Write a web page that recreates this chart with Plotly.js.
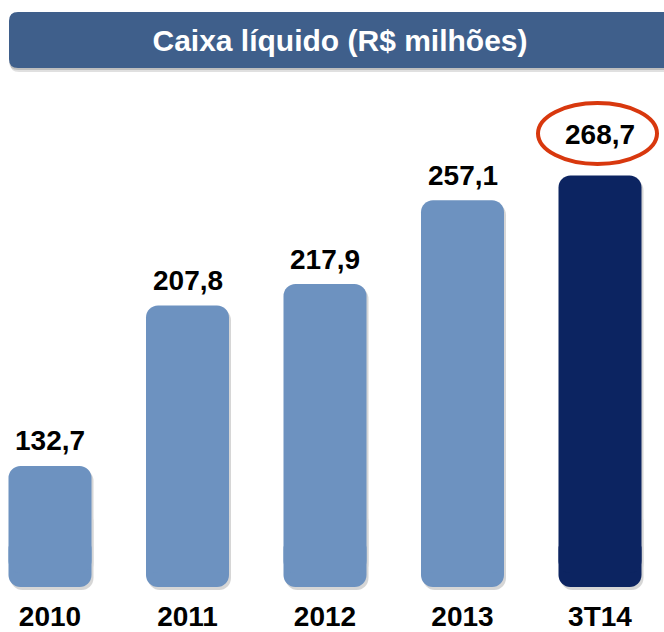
<!DOCTYPE html>
<html>
<head>
<meta charset="utf-8">
<script src="https://cdn.plot.ly/plotly-3.0.1.min.js"></script>
<style>html,body{margin:0;padding:0;background:#fff;}#chart{width:664px;height:632px;}</style>
</head>
<body>
<div id="chart"></div>
<script>
// ---- data ----
const categories = ['2010', '2011', '2012', '2013', '3T14'];
const values = [132.7, 207.8, 217.9, 257.1, 268.7];
const valueLabels = values.map(v => v.toFixed(1).replace('.', ','));
const titleText = 'Caixa líquido (R$ milhões)';

// ---- geometry / style ----
const W = 664, H = 632;
const mB = 35;
const plotH = H - mB;               // plot area from pixel 0 to 597
const k = 2.135;                    // px per unit
const v0 = 76;                      // value at visual bar bottom (pixel 587)
const yMin = v0 - (plotH - 587) / k;
const yMax = v0 + 587 / k;
const B = v0 + 14 / k;              // base of main bar
const capTop = v0 + 50 / k;         // top of rounded-bottom cap
const unitPx = 137.5;
const barW = 83 / unitPx;
const xMin = -50 / unitPx, xMax = (W - 50) / unitPx;
const light = '#6d92c0', dark = '#0c2461';
const colors = categories.map((c, i) => i === categories.length - 1 ? dark : light);
const shadow = '#d6d6d6';
const shOff = -barW / 2 + 2 / unitPx;
const sh = 3 / k;
const font = 'Liberation Sans, Arial, sans-serif';

const traces = [
  // shadows
  { type: 'bar', x: categories, base: values.map(() => B - sh), y: values.map(v => v - B),
    width: barW, offset: shOff, marker: { color: shadow, cornerradius: 12 }, hoverinfo: 'skip' },
  { type: 'bar', x: categories, base: values.map(() => capTop + 30 / k - sh), y: values.map(() => -(capTop + 30 / k - v0)),
    width: barW, offset: shOff, marker: { color: shadow, cornerradius: 12 }, hoverinfo: 'skip' },
  // bars (rounded-bottom cap + rounded-top body)
  { type: 'bar', x: categories, base: values.map(() => capTop), y: values.map(() => -(capTop - v0)),
    width: barW, marker: { color: colors, cornerradius: 12, line: { width: 0 } }, hoverinfo: 'skip' },
  { type: 'bar', x: categories, base: values.map(() => B), y: values.map(v => v - B),
    width: barW, marker: { color: colors, cornerradius: 12, line: { width: 0 } } }
];

const px2py = py => (plotH - py) / plotH;
const px2px = px => px / W;
const x0 = px2px(9), x1 = 1.02, yt = px2py(12), yb = px2py(68);
const rx = 9 / W, ry = 9 / plotH;
function banner(dx, dy) {
  const a = x0 + dx / W, t = yt - dy / plotH, b = yb - dy / plotH;
  return `M ${a + rx},${t} L ${x1},${t} L ${x1},${b} L ${a + rx},${b} Q ${a},${b} ${a},${b + ry} L ${a},${t - ry} Q ${a},${t} ${a + rx},${t} Z`;
}

const shapes = [
  { type: 'path', xref: 'paper', yref: 'paper', path: banner(1, 4), fillcolor: 'rgba(0,0,0,0.12)', line: { width: 0 }, layer: 'below' },
  { type: 'path', xref: 'paper', yref: 'paper', path: banner(0, 2), fillcolor: 'rgba(0,0,0,0.15)', line: { width: 0 }, layer: 'below' },
  { type: 'path', xref: 'paper', yref: 'paper', path: banner(0, 0), fillcolor: '#3f5f8b', line: { width: 0 }, layer: 'below' },
  { type: 'circle', xref: 'paper', yref: 'paper', x0: px2px(538), x1: px2px(657), y0: px2py(164), y1: px2py(103),
    line: { color: '#d8380e', width: 4 }, layer: 'above' }
];

const annotations = categories.map((c, i) => ({
  x: i, y: values[i], xref: 'x', yref: 'y', text: valueLabels[i], showarrow: false,
  yanchor: 'middle', yshift: i === categories.length - 1 ? 41 : 25,
  font: { family: font, size: 28, weight: 700, color: '#000' }
}));

const layout = {
  width: W, height: H,
  margin: { l: 0, r: 0, t: 0, b: mB, pad: 0 },
  paper_bgcolor: '#fff', plot_bgcolor: '#fff',
  showlegend: false, barmode: 'overlay',
  title: { text: titleText, x: 340 / W, xanchor: 'center', y: 1 - 40 / H, yanchor: 'middle', xref: 'paper',
    font: { family: font, size: 30, weight: 700, color: '#fff' } },
  xaxis: { type: 'category', range: [xMin, xMax], showgrid: false, zeroline: false, showline: false, ticks: '',
    ticklabelstandoff: 0,
    tickfont: { family: font, size: 28, weight: 700, color: '#000' }, fixedrange: true },
  yaxis: { range: [yMin, yMax], visible: false, showgrid: false, zeroline: false, fixedrange: true },
  shapes: shapes, annotations: annotations
};

Plotly.newPlot('chart', traces, layout, { displayModeBar: false, staticPlot: true });
</script>
</body>
</html>
